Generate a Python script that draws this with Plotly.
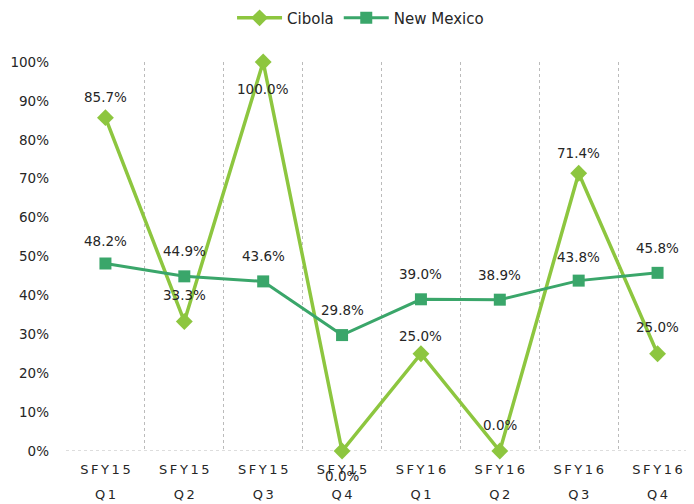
import plotly.graph_objects as go

TS = "\u2009"
years = ["SFY15"] * 4 + ["SFY16"] * 4
quarters = ["Q1", "Q2", "Q3", "Q4"] * 2
categories = [f"{y} {q}" for y, q in zip(years, quarters)]
cibola = [0.857, 0.333, 1.000, 0.000, 0.250, 0.000, 0.714, 0.250]
new_mexico = [0.482, 0.449, 0.436, 0.298, 0.390, 0.389, 0.438, 0.458]
ytick_vals = [i / 10 for i in range(11)]
ytick_text = [f"{i*10}%" for i in range(11)]

# label pixel offsets (style): positive = above the point
cibola_label_shift = [21, 26, -27, -25, 18, 26, 20, 27]
nm_label_shift = [23, 25, 25, 25, 25, 25, 24, 25]

xtick_text = [f"<span style='font-size:13px'>{TS.join(y)}</span><br>"
              f"<span style='font-size:13px'>{TS.join(q)}</span>"
              for y, q in zip(years, quarters)]

CIB = "#8DC63F"
NM = "#3AA66A"
FONT = "DejaVu Sans"
TXT = "#262626"

fig = go.Figure()
fig.add_trace(go.Scatter(
    x=categories, y=cibola, name="Cibola", mode="lines+markers",
    line=dict(color=CIB, width=3.5),
    marker=dict(symbol="diamond", size=13, color=CIB), cliponaxis=False,
))
fig.add_trace(go.Scatter(
    x=categories, y=new_mexico, name="New Mexico", mode="lines+markers",
    line=dict(color=NM, width=3),
    marker=dict(symbol="square", size=12, color=NM), cliponaxis=False,
))

annotations = []
for series, shifts in ((cibola, cibola_label_shift), (new_mexico, nm_label_shift)):
    for c, v, s in zip(categories, series, shifts):
        annotations.append(dict(
            x=c, y=v, xref="x", yref="y", text=f"{v*100:.1f}%", showarrow=False,
            yshift=s, font=dict(family=FONT, size=13.5, color=TXT)))

fig.update_layout(
    width=694, height=504,
    margin=dict(l=57.5, r=4.5, t=54, b=61, autoexpand=False),
    paper_bgcolor="white", plot_bgcolor="white",
    font=dict(family=FONT, size=13, color=TXT),
    showlegend=True,
    legend=dict(orientation="h", xref="container", x=0.508, xanchor="center",
                yref="container", y=0.98, yanchor="middle", itemwidth=45,
                font=dict(family=FONT, size=15, color=TXT)),
    xaxis=dict(type="category", range=[-0.5, 7.5], tickson="boundaries",
               showgrid=True, gridcolor="#BBBBBB", griddash="dot", gridwidth=1,
               ticks="", showline=False, zeroline=False, automargin=False,
               tickvals=categories, ticktext=xtick_text, ticklabelstandoff=3,
               tickfont=dict(family=FONT, size=19, color=TXT)),
    yaxis=dict(range=[0, 1], tickvals=ytick_vals, ticktext=ytick_text,
               showgrid=False, zeroline=False, showline=False, ticks="",
               automargin=False, ticklabelstandoff=16,
               tickfont=dict(family=FONT, size=13.5, color=TXT)),
    annotations=annotations,
    shapes=[dict(type="line", xref="paper", x0=0, x1=1, yref="y", y0=0, y1=0,
                 line=dict(color="#BBBBBB", width=1, dash="dot"), layer="below")],
)
fig.write_html("out.html")
